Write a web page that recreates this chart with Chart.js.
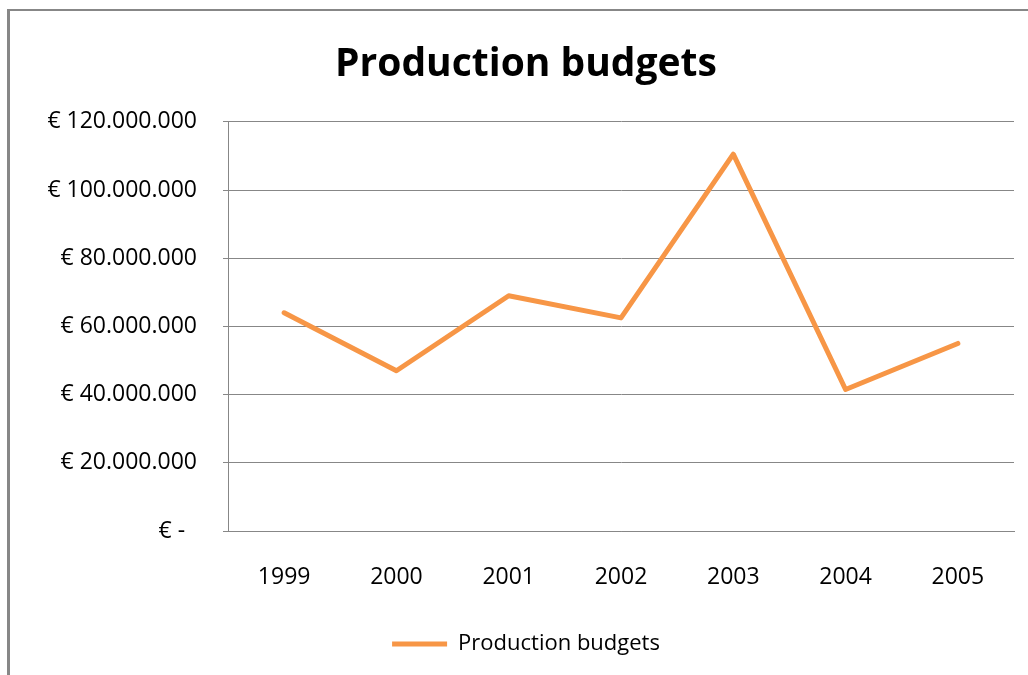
<!DOCTYPE html>
<html>
<head>
<meta charset="utf-8">
<title>Production budgets</title>
<script src="https://cdn.jsdelivr.net/npm/chart.js@4.4.1/dist/chart.umd.min.js"></script>
<style>
  html, body { margin: 0; padding: 0; background: #fff; overflow: hidden; }
  #frame {
    position: absolute; left: 7px; top: 9px; width: 1100px; height: 800px;
    border-left: 3px solid #878787; border-top: 2px solid #878787;
  }
  #budgets { position: absolute; left: 0; top: 0; }
</style>
</head>
<body>
<div id="frame"></div>
<canvas id="budgets" width="1028" height="675"></canvas>
<script>
const years = ['1999', '2000', '2001', '2002', '2003', '2004', '2005'];
const budgets = [64000000, 47000000, 69000000, 62500000, 110500000, 41500000, 55000000];
const yTicks = [0, 20000000, 40000000, 60000000, 80000000, 100000000, 120000000];

const FONT = "'Open Sans', sans-serif";
const gridGray = '#878787';

// euro amounts with dots as thousand separators, zero shown as a dash
function euro(v) {
  if (v === 0) return '\u20AC -  ';
  return '\u20AC ' + String(v).replace(/\B(?=(\d{3})+(?!\d))/g, '.');
}

const ctx = document.getElementById('budgets').getContext('2d');

const chart = new Chart(ctx, {
  type: 'line',
  data: {
    labels: years,
    datasets: [{
      label: 'Production budgets',
      data: budgets,
      borderColor: '#F79646',
      backgroundColor: '#F79646',
      borderWidth: 5,
      borderJoinStyle: 'round',
      borderCapStyle: 'round',
      pointRadius: 0,
      pointHoverRadius: 0,
      pointStyle: 'line',
      tension: 0
    }]
  },
  options: {
    responsive: false,
    animation: false,
    devicePixelRatio: 1,
    layout: { padding: { left: 38, right: 14, top: 0, bottom: 10 } },
    plugins: {
      title: {
        display: true,
        text: 'Production budgets',
        color: '#000',
        font: { family: FONT, size: 39, weight: 'bold' },
        padding: { top: 41, bottom: 34 }
      },
      legend: {
        position: 'bottom',
        labels: {
          color: '#000',
          font: { family: FONT, size: 22 },
          usePointStyle: true,
          pointStyleWidth: 55,
          padding: 10
        }
      },
      tooltip: { enabled: false }
    },
    scales: {
      x: {
        offset: true,
        grid: { display: false, drawTicks: false },
        border: { display: true, color: gridGray, width: 1 },
        ticks: { color: '#000', font: { family: FONT, size: 23 }, padding: 33, maxRotation: 0 },
        afterFit: s => { s.height = 92; }
      },
      y: {
        min: 0,
        max: 120000000,
        afterBuildTicks: s => { s.ticks = yTicks.map(v => ({ value: v })); },
        grid: { color: gridGray, lineWidth: 1, tickLength: 5 },
        border: { display: true, color: gridGray, width: 1 },
        ticks: {
          color: '#000',
          font: { family: FONT, size: 23 },
          padding: 26,
          callback: v => euro(v)
        },
        afterFit: s => { s.width = 190; }
      }
    }
  }
});
</script>
</body>
</html>
